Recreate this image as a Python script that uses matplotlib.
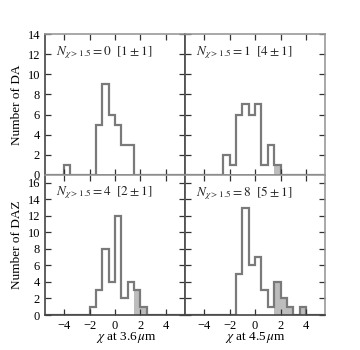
import numpy as np
import matplotlib
matplotlib.use("Agg")
import matplotlib.pyplot as plt

plt.rcParams['font.family'] = ['Liberation Serif', 'DejaVu Serif']
plt.rcParams['mathtext.fontset'] = 'stix'
plt.rcParams['font.size'] = 9

# bin edges: -5.5 .. 5.5 in steps of 0.5
edges = np.arange(-5.5, 5.51, 0.5)

# counts per 0.5-wide bin, starting at -5.5
da_36  = [0, 0, 0, 1, 0, 0, 0, 0, 5, 9, 6, 5, 3, 3, 0, 0, 0, 0, 0, 0, 0, 0]
da_45  = [0, 0, 0, 0, 0, 0, 2, 1, 6, 7, 6, 7, 1, 3, 1, 0, 0, 0, 0, 0, 0, 0]
daz_36 = [0, 0, 0, 0, 0, 0, 0, 1, 3, 8, 4, 12, 2, 4, 3, 1, 0, 0, 0, 0, 0, 0]
daz_45 = [0, 0, 0, 0, 0, 0, 0, 0, 5, 13, 6, 7, 3, 1, 4, 2, 1, 0, 1, 0, 0, 0]

labels = [r'$N_{\chi>1.5}=0\ \ [1\pm1]$', r'$N_{\chi>1.5}=1\ \ [4\pm1]$',
          r'$N_{\chi>1.5}=4\ \ [2\pm1]$', r'$N_{\chi>1.5}=8\ \ [5\pm1]$']
ylabels = ['Number of DA', 'Number of DAZ']
xlabels = [r'$\chi$ at 3.6$\,\mu$m', r'$\chi$ at 4.5$\,\mu$m']
cut = 1.5

fig = plt.figure(figsize=(3.6, 3.5), dpi=100)
x0, w = 0.125, 0.389
y0, h = 0.1, 0.401
data = [da_36, da_45, daz_36, daz_45]
for k in range(4):
    r, c = divmod(k, 2)
    ax = fig.add_axes([x0 + c * w, y0 + (1 - r) * h, w, h])
    counts = np.array(data[k])
    hi = edges[:-1] >= cut
    ax.stairs(np.where(hi, counts, 0), edges, fill=True, color='#bdbdbd', lw=0)
    ax.stairs(counts, edges, color='#7a7a7a', lw=1.6)
    ax.set_xlim(-5.5, 5.5)
    ax.set_xticks([-4, -2, 0, 2, 4])
    if r == 0:
        ax.set_ylim(0, 14)
        ax.set_yticks(range(0, 15, 2))
        ax.tick_params(labelbottom=False)
    else:
        ax.set_ylim(0, 17)
        ax.set_yticks(range(0, 17, 2))
        ax.set_xlabel(xlabels[c], fontsize=9.5, labelpad=2)
        if c == 0:
            ax.xaxis.set_label_coords(0.58, -0.11)
        else:
            ax.xaxis.set_label_coords(0.5, -0.11)
    if c == 0:
        ax.set_ylabel(ylabels[r], fontsize=9.5, labelpad=3)
    else:
        ax.tick_params(labelleft=False)
    ax.tick_params(direction='in', top=True, right=True, length=4, width=0.9,
                   color='#333333', labelsize=9)
    for s in ['left', 'bottom']:
        ax.spines[s].set_color('#444444')
    for s in ['top', 'right']:
        ax.spines[s].set_color('#999999')
    for s in ax.spines.values():
        s.set_linewidth(1.2)
    ax.text(0.08, 0.93, labels[k], transform=ax.transAxes, va='top', ha='left',
            fontsize=9.5, color='#222222')

fig.savefig('out.png', dpi=100)
